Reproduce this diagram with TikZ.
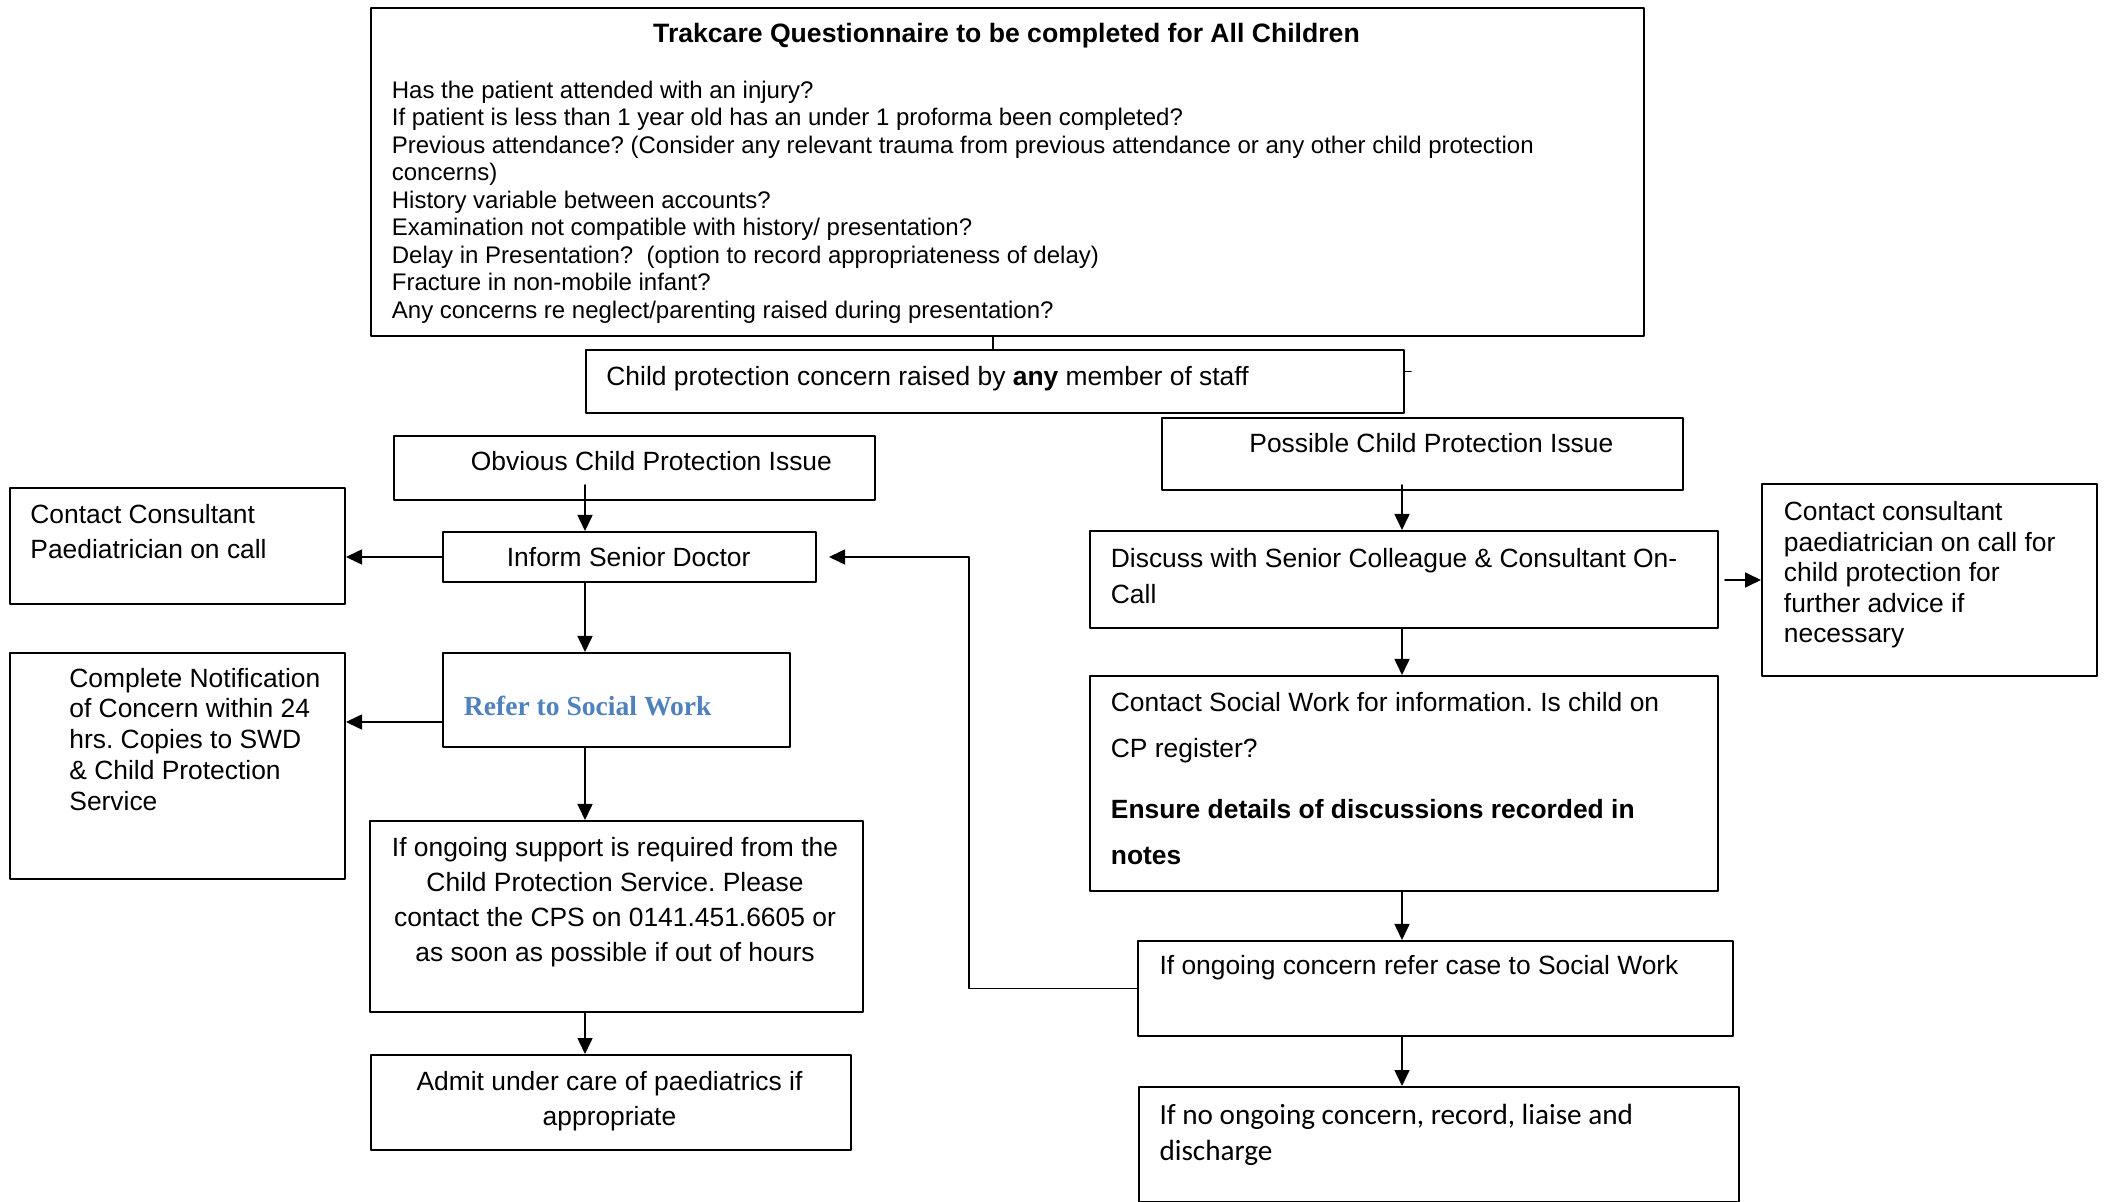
\documentclass[tikz,border=0pt]{standalone}
\usepackage{fontspec}
\setmainfont{Liberation Sans}
\newfontfamily\calibrifont{Carlito}
\newfontfamily\serifbold{Liberation Serif}
\usetikzlibrary{arrows.meta,positioning}
\definecolor{referblue}{RGB}{79,129,189}
\frenchspacing
\tikzstyle{every path}=[line width=0.9pt,line cap=round,line join=round]
\tikzstyle{box}=[draw,line width=1pt,inner sep=0pt,anchor=north west]
\tikzstyle{txt}=[inner sep=0pt,align=left,anchor=north west,font=\fontsize{13.2}{17.5}\selectfont]
\tikzstyle{arr}=[-{Triangle[length=8pt,width=7.5pt]},line width=0.8pt]

\begin{document}
\begin{tikzpicture}[x=0.5pt,y=-0.5pt]
\useasboundingbox (0,0) rectangle (2105,1202);
%boxes
\node[box,minimum width=636.5pt,minimum height=164pt] (quest) at (370,7) {};
\node[box,minimum width=409pt,minimum height=31.5pt] (child) at (585,349) {};
\node[box,minimum width=240.5pt,minimum height=32pt] (obvious) at (393,435) {};
\node[box,minimum width=260.5pt,minimum height=36pt] (possible) at (1161,417) {};
\node[box,minimum width=167.5pt,minimum height=58pt] (contactL) at (9,487) {};
\node[box,minimum width=186.5pt,minimum height=25pt] (inform) at (442,531) {};
\node[box,minimum width=314pt,minimum height=48.5pt] (discuss) at (1089,530) {};
\node[box,minimum width=167.5pt,minimum height=96pt] (contactR) at (1761,483) {};
\node[box,minimum width=167.5pt,minimum height=113pt] (complete) at (9,652) {};
\node[box,minimum width=173.5pt,minimum height=47pt] (refer) at (442,652) {};
\node[box,minimum width=314pt,minimum height=107.5pt] (contactSW) at (1089,675) {};
\node[box,minimum width=246.5pt,minimum height=95.5pt] (support) at (369,820) {};
\node[box,minimum width=240pt,minimum height=47.5pt] (admit) at (370,1054) {};
\node[box,minimum width=297.5pt,minimum height=47.5pt] (concern) at (1137,940) {};
\node[box,minimum width=300pt,minimum height=57.5pt] (noconcern) at (1138,1086) {};

%texts
\node[inner sep=0pt,font=\fontsize{13.3}{15}\selectfont\bfseries] (questtitle) at (1006.5,36)
  {Trakcare Questionnaire to be completed for All Children};
\node[txt,font=\fontsize{12}{13.75}\selectfont] (questlist) at (391,80)
  {Has the patient attended with an injury?\\
   If patient is less than 1 year old has an under 1 proforma been completed?\\
   Previous attendance? (Consider any relevant trauma from previous attendance or any other child protection\\
   concerns)\\
   History variable between accounts?\\
   Examination not compatible with history/ presentation?\\
   Delay in Presentation?\ \ (option to record appropriateness of delay)\\
   Fracture in non-mobile infant?\\
   Any concerns re neglect/parenting raised during presentation?};
\node[txt,anchor=west] (childtxt) at (605.5,379)
  {Child protection concern raised by \textbf{any} member of staff};
\node[txt,anchor=west] (obvioustxt) at (470,461.5) {Obvious Child Protection Issue};
\node[txt,anchor=west] (possibletxt) at (1248.5,443) {Possible Child Protection Issue};
\node[txt,anchor=west] (informtxt) at (506,557) {Inform Senior Doctor};
\node[txt] (contactLtxt) at (29.5,503.5) {Contact Consultant\\Paediatrician on call};
\node[txt,font=\fontsize{13.2}{18}\selectfont] (discusstxt) at (1110,547.5)
  {Discuss with Senior Colleague \& Consultant On-\\Call};
\node[txt,font=\fontsize{13.2}{15.25}\selectfont] (contactRtxt) at (1783,500.5)
  {Contact consultant\\paediatrician on call for\\child protection for\\further advice if\\necessary};
\node[txt,font=\fontsize{13.2}{15.45}\selectfont] (completetxt) at (68.5,667)
  {Complete Notification\\of Concern within 24\\hrs. Copies to SWD\\\& Child Protection\\Service};
\node[txt,anchor=west,text=referblue,font=\serifbold\bfseries\fontsize{13.8}{16}\selectfont] (refertxt) at (463,706)
  {Refer to Social Work};
\node[txt,font=\fontsize{13.2}{23}\selectfont] (contactSWtxt) at (1110,691.5)
  {Contact Social Work for information. Is child on\\CP register?\\[7.5pt]
   \textbf{Ensure details of discussions recorded in}\\\textbf{notes}};
\node[txt,anchor=north,align=center] (supporttxt) at (615,836)
  {If ongoing support is required from the\\Child Protection Service. Please\\contact the CPS on 0141.451.6605 or\\as soon as possible if out of hours};
\node[txt,anchor=north,align=center] (admittxt) at (609.5,1070)
  {Admit under care of paediatrics if\\appropriate};
\node[txt,anchor=west] (concerntxt) at (1158.6,967.5) {If ongoing concern refer case to Social Work};
\node[txt,font=\calibrifont\fontsize{14.6}{18}\selectfont] (noconcerntxt) at (1158.6,1103.5)
  {If no ongoing concern, record, liaise and\\discharge};

%connectors
\coordinate (colT) at (993,0);
\coordinate (colL) at (585,0);
\coordinate (colR) at (1402,0);
\coordinate (rowN) at (0,722);
\coordinate (bend) at (969,760);
\draw (quest.south -| colT) -- (child.north -| colT);
\draw ([yshift=5pt]child.east) -- ++(3pt,0);
\draw[arr] ([yshift=8pt]obvious.south -| colL) -- (inform.north -| colL);
\draw[arr] (inform.south -| colL) -- (refer.north -| colL);
\draw[arr] (refer.south -| colL) -- (support.north -| colL);
\draw[arr] (support.south -| colL) -- (admit.north -| colL);
\draw[arr] (inform.west) -- (contactL.east |- inform.west);
\draw[arr] (refer.west |- rowN) -- (complete.east |- rowN);
\draw[arr] ([yshift=3pt]possible.south -| colR) -- (discuss.north -| colR);
\draw[arr] (discuss.south -| colR) -- (contactSW.north -| colR);
\draw[arr] (contactSW.south -| colR) -- (concern.north -| colR);
\draw[arr] (concern.south -| colR) -- (noconcern.north -| colR);
\draw[arr,shorten <=3pt] (discuss.east |- contactR.west) -- (contactR.west);
\draw[arr,shorten >=6pt] (concern.west) -| (bend) |- (inform.east);
\end{tikzpicture}
\end{document}
